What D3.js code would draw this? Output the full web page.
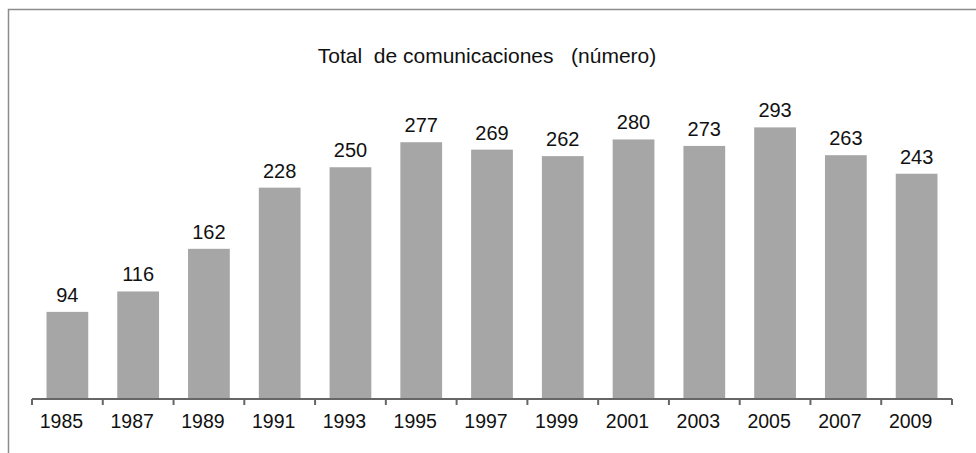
<!DOCTYPE html>
<html>
<head>
<meta charset="utf-8">
<script src="https://cdn.jsdelivr.net/npm/d3@7"></script>
<style>
  html, body { margin: 0; padding: 0; background: #fff; }
  svg { display: block; font-family: "Liberation Sans", Arial, sans-serif; }
</style>
</head>
<body>
<svg id="chart" width="976" height="453"></svg>
<script>
const title = "Total  de comunicaciones   (número)";
const years = ["1985","1987","1989","1991","1993","1995","1997","1999","2001","2003","2005","2007","2009"];
const values = [94,116,162,228,250,277,269,262,280,273,293,263,243];
const yDomain = [0, 350];

const W = 976, H = 453;
const svg = d3.select("#chart");

// outer frame (top and left edges visible; extends beyond viewport)
svg.append("rect")
  .attr("x", 8.5).attr("y", 9.5)
  .attr("width", W + 20).attr("height", H + 20)
  .attr("fill", "none")
  .attr("stroke", "#8c8c8c")
  .attr("stroke-width", 1.5);

const plotLeft = 32, plotRight = 952, baseY = 399;
const x = d3.scaleBand().domain(years).range([plotLeft, plotRight])
  .paddingInner(0.41).paddingOuter(0.205);
const xEdges = d3.scaleLinear().domain([0, years.length]).range([plotLeft, plotRight]);
const y = d3.scaleLinear().domain(yDomain).range([baseY, baseY - 0.927 * yDomain[1]]);

// title
svg.append("text")
  .attr("x", 487).attr("y", 63)
  .attr("text-anchor", "middle")
  .attr("font-size", 21)
  .attr("fill", "#111")
  .style("white-space", "pre")
  .text(title);

// bars
svg.append("g").selectAll("rect")
  .data(values)
  .join("rect")
  .attr("x", (d, i) => x(years[i]))
  .attr("y", d => y(d))
  .attr("width", x.bandwidth())
  .attr("height", d => y(0) - y(d))
  .attr("fill", "#a6a6a6");

// value labels
svg.append("g").selectAll("text")
  .data(values)
  .join("text")
  .attr("x", (d, i) => x(years[i]) + x.bandwidth() / 2)
  .attr("y", d => y(d) - 10)
  .attr("text-anchor", "middle")
  .attr("font-size", 20)
  .attr("fill", "#111")
  .text(d => d);

// axis line
const axisG = svg.append("g");
axisG.append("line")
  .attr("x1", plotLeft).attr("x2", plotRight)
  .attr("y1", baseY).attr("y2", baseY)
  .attr("stroke", "#666").attr("stroke-width", 2);
axisG.selectAll("line.tick")
  .data(d3.range(years.length + 1))
  .join("line")
  .attr("class", "tick")
  .attr("x1", i => xEdges(i)).attr("x2", i => xEdges(i))
  .attr("y1", baseY).attr("y2", baseY + 6)
  .attr("stroke", "#666").attr("stroke-width", 2);

// axis labels
axisG.selectAll("text")
  .data(years)
  .join("text")
  .attr("x", d => x(d) + x.bandwidth() / 2 - 6)
  .attr("y", 428)
  .attr("text-anchor", "middle")
  .attr("font-size", 19.5)
  .attr("fill", "#111")
  .text(d => d);
</script>
</body>
</html>
